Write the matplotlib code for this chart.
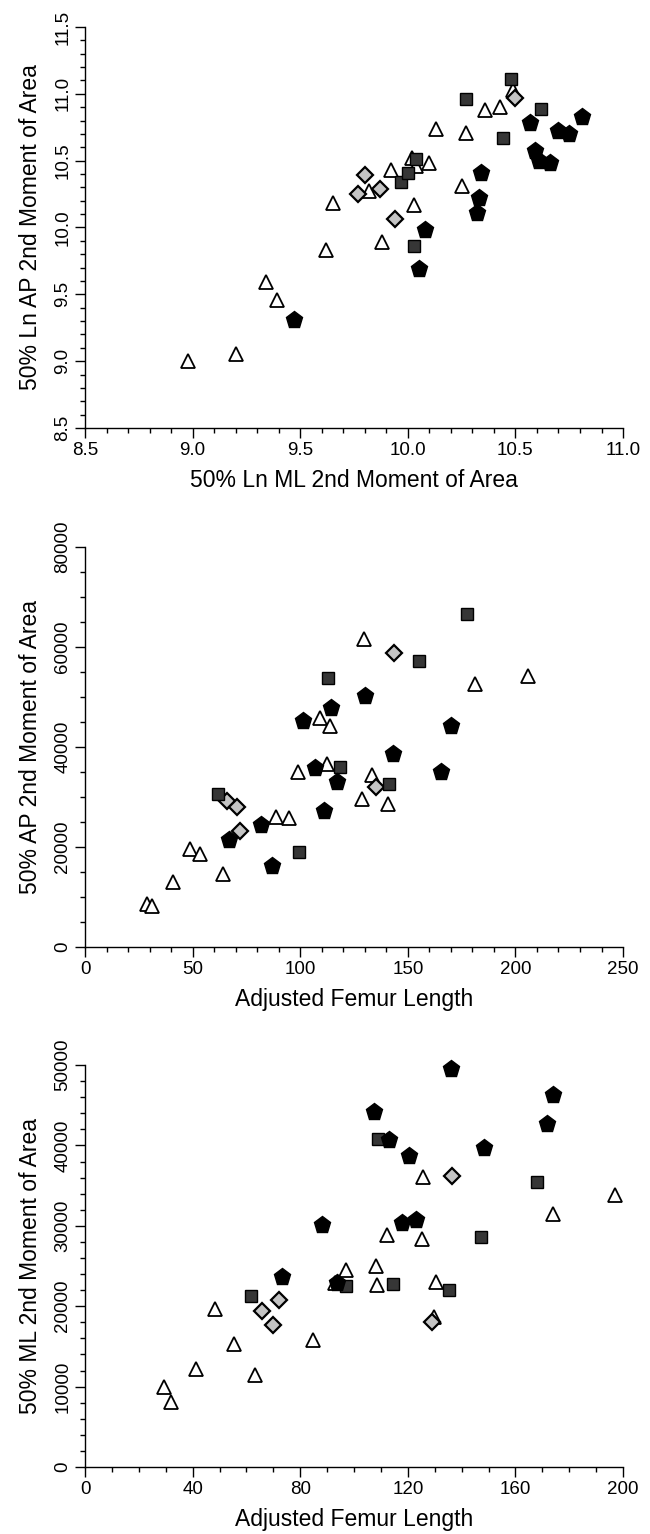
import matplotlib
matplotlib.use('Agg')
import matplotlib.pyplot as plt
from matplotlib.ticker import MultipleLocator, FormatStrFormatter

plt.rcParams['font.family'] = ['Liberation Sans', 'DejaVu Sans']

# ---- panel 1: Ln ML vs Ln AP second moment of area ----
tri1_x = [8.98, 9.20, 9.34, 9.39, 9.62, 9.65, 9.82, 9.88, 9.92, 10.02, 10.04, 10.10, 10.03, 10.13, 10.25, 10.27, 10.36, 10.43, 10.49]
tri1_y = [9.00, 9.05, 9.59, 9.46, 9.83, 10.18, 10.27, 9.89, 10.43, 10.52, 10.46, 10.48, 10.17, 10.74, 10.31, 10.71, 10.88, 10.90, 11.03]
sq1_x = [10.03, 9.97, 10.00, 10.04, 10.27, 10.44, 10.48, 10.62]
sq1_y = [9.86, 10.34, 10.41, 10.51, 10.96, 10.67, 11.11, 10.89]
dia1_x = [9.80, 9.87, 9.77, 9.94, 10.50]
dia1_y = [10.39, 10.29, 10.25, 10.06, 10.97]
pen1_x = [9.47, 10.05, 10.08, 10.32, 10.33, 10.34, 10.57, 10.59, 10.61, 10.66, 10.70, 10.75, 10.81]
pen1_y = [9.31, 9.69, 9.98, 10.11, 10.22, 10.41, 10.78, 10.57, 10.50, 10.48, 10.72, 10.70, 10.83]

# ---- panel 2: femur length vs AP second moment ----
tri2_x = [129.7, 206.0, 181.1, 109.1, 113.7, 112.5, 98.8, 133.4, 128.6, 140.9, 88.8, 94.8, 48.6, 53.3, 64.1, 40.7, 28.6, 31.1]
tri2_y = [61600, 54200, 52600, 45800, 44100, 36600, 35000, 34350, 29600, 28600, 26050, 25850, 19650, 18550, 14650, 12950, 8600, 8150]
sq2_x = [177.6, 155.4, 112.9, 118.7, 141.1, 61.6, 99.4]
sq2_y = [66650, 57200, 53700, 36000, 32550, 30550, 18900]
dia2_x = [143.4, 135.1, 66.2, 70.8, 71.8]
dia2_y = [58850, 32050, 29200, 27900, 23200]
pen2_x = [130.3, 114.3, 101.2, 169.9, 142.9, 165.6, 106.8, 117.2, 111.0, 81.9, 66.8, 87.1]
pen2_y = [50200, 47850, 45200, 44100, 38650, 34900, 35800, 33000, 27200, 24400, 21350, 16100]

# ---- panel 3: femur length vs ML second moment ----
tri3_x = [125.7, 196.9, 173.8, 112.3, 125.4, 97.1, 108.2, 92.8, 108.6, 130.3, 48.4, 129.8, 55.4, 84.8, 41.2, 63.2, 29.3, 31.8]
tri3_y = [36050, 33850, 31450, 28850, 28300, 24450, 25000, 22850, 22650, 23000, 19650, 18650, 15250, 15750, 12200, 11500, 10000, 8100]
sq3_x = [109.0, 168.1, 147.3, 97.0, 114.6, 135.2, 61.8]
sq3_y = [40750, 35450, 28650, 22550, 22800, 22050, 21300]
dia3_x = [136.5, 72.0, 65.7, 69.7, 129.1]
dia3_y = [36250, 20800, 19350, 17700, 18000]
pen3_x = [136.0, 173.8, 107.5, 171.8, 113.0, 120.6, 148.3, 88.2, 117.8, 122.9, 73.2, 93.6]
pen3_y = [49450, 46300, 44200, 42650, 40650, 38650, 39700, 30150, 30400, 30700, 23600, 22850]


def scatter_groups(ax, tri, sq, dia, pen):
    ax.plot(tri[0], tri[1], '^', ls='none', ms=10, mfc='white', mec='black', mew=1.3, zorder=3, clip_on=False)
    ax.plot(dia[0], dia[1], 'D', ls='none', ms=8, mfc='#c4c4c4', mec='black', mew=1.6, zorder=4, clip_on=False)
    ax.plot(sq[0], sq[1], 's', ls='none', ms=9, mfc='#363636', mec='black', mew=1.0, zorder=4, clip_on=False)
    ax.plot(pen[0], pen[1], 'p', ls='none', ms=12.5, mfc='black', mec='black', mew=1.0, zorder=5, clip_on=False)


def style_axes(ax, xmaj, xmin, ymaj, ymin):
    for s in ['top', 'right']:
        ax.spines[s].set_visible(False)
    for s in ['left', 'bottom']:
        ax.spines[s].set_linewidth(1.0)
    ax.xaxis.set_major_locator(MultipleLocator(xmaj))
    ax.xaxis.set_minor_locator(MultipleLocator(xmin))
    ax.yaxis.set_major_locator(MultipleLocator(ymaj))
    ax.yaxis.set_minor_locator(MultipleLocator(ymin))
    ax.tick_params(which='major', direction='out', length=7, width=1.0, labelsize=13.5, pad=3)
    ax.tick_params(which='minor', direction='out', length=3.6, width=1.0)
    ax.tick_params(axis='y', labelrotation=90)


fig = plt.figure(figsize=(6.5, 15.34), dpi=100)
ax1 = fig.add_axes([0.1308, 0.7210, 0.8277, 0.2614])
ax2 = fig.add_axes([0.1308, 0.3827, 0.8277, 0.2607])
ax3 = fig.add_axes([0.1308, 0.0437, 0.8277, 0.2620])

scatter_groups(ax1, (tri1_x, tri1_y), (sq1_x, sq1_y), (dia1_x, dia1_y), (pen1_x, pen1_y))
ax1.set_xlim(8.5, 11.0)
ax1.set_ylim(8.5, 11.5)
style_axes(ax1, 0.5, 0.1, 0.5, 0.1)
ax1.xaxis.set_major_formatter(FormatStrFormatter('%.1f'))
ax1.yaxis.set_major_formatter(FormatStrFormatter('%.1f'))
ax1.set_xlabel('50% Ln ML 2nd Moment of Area', fontsize=16.5, labelpad=7)
ax1.set_ylabel('50% Ln AP 2nd Moment of Area', fontsize=16.5, labelpad=9)

scatter_groups(ax2, (tri2_x, tri2_y), (sq2_x, sq2_y), (dia2_x, dia2_y), (pen2_x, pen2_y))
ax2.set_xlim(0, 250)
ax2.set_ylim(0, 80000)
style_axes(ax2, 50, 10, 20000, 5000)
ax2.set_xlabel('Adjusted Femur Length', fontsize=16.5, labelpad=7)
ax2.set_ylabel('50% AP 2nd Moment of Area', fontsize=16.5, labelpad=9)

scatter_groups(ax3, (tri3_x, tri3_y), (sq3_x, sq3_y), (dia3_x, dia3_y), (pen3_x, pen3_y))
ax3.set_xlim(0, 200)
ax3.set_ylim(0, 50000)
style_axes(ax3, 40, 10, 10000, 2000)
ax3.set_xlabel('Adjusted Femur Length', fontsize=16.5, labelpad=7)
ax3.set_ylabel('50% ML 2nd Moment of Area', fontsize=16.5, labelpad=9)

for ax in (ax1, ax2, ax3):
    for lab in ax.get_yticklabels():
        lab.set_va('center')

fig.savefig('out.png', dpi=100)
